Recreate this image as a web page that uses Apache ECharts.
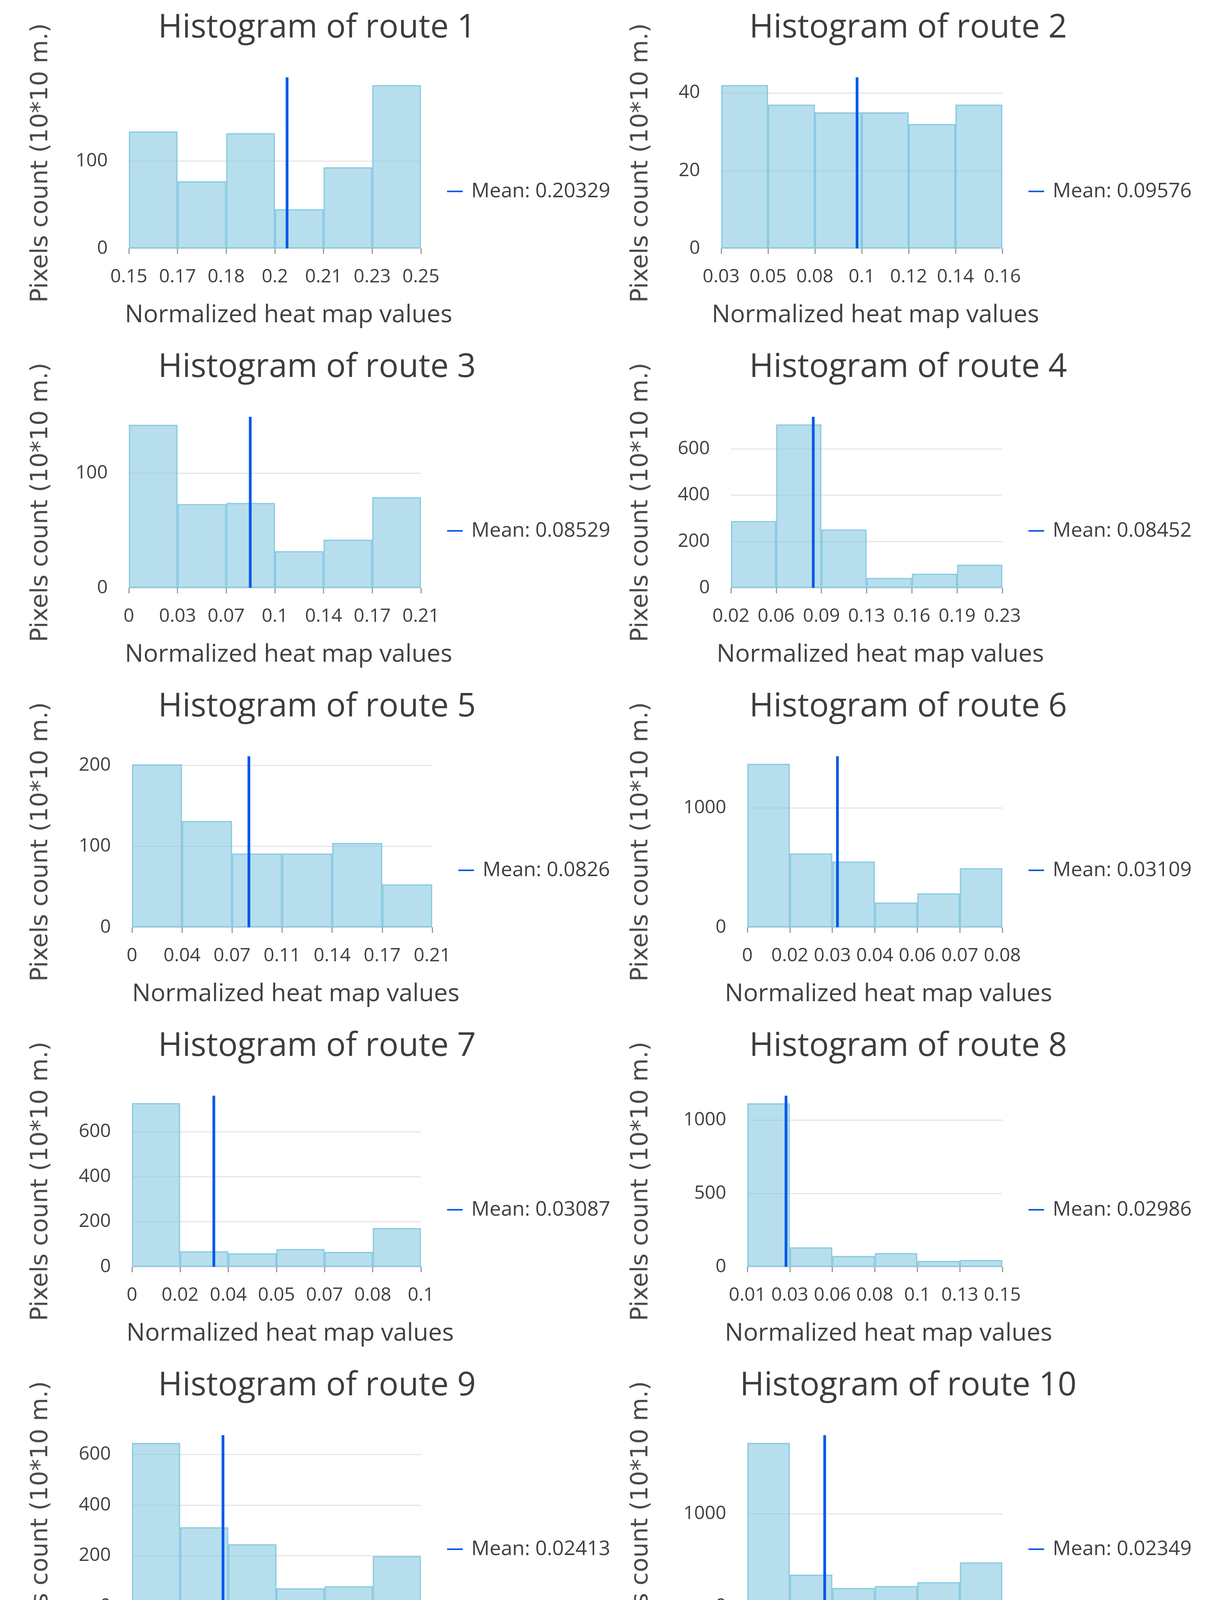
<!DOCTYPE html>
<html><head><meta charset="utf-8">
<script src="https://cdn.jsdelivr.net/npm/echarts@6/dist/echarts.min.js"></script>
<style>html,body{margin:0;padding:0;background:#fff}#c{width:3104px;height:4337px}</style>
</head><body><div id="c"></div>
<script>
// ---- data ----
const routeNames = ['route 1','route 2','route 3','route 4','route 5','route 6','route 7','route 8','route 9','route 10'];
const route1Counts = [134, 77, 132, 45, 93, 187];
const route2Counts = [42, 37, 35, 35, 32, 37];
const route3Counts = [142, 73, 74, 32, 42, 79];
const route4Counts = [288, 705, 252, 43, 61, 100];
const route5Counts = [201, 131, 91, 91, 104, 53];
const route6Counts = [1370, 619, 551, 208, 285, 496];
const route7Counts = [727, 69, 60, 79, 66, 172];
const route8Counts = [1113, 132, 74, 93, 40, 46];
const route9Counts = [645, 312, 245, 71, 79, 198];
const route10Counts = [1769, 343, 198, 219, 261, 475];

const route1Ticks = ['0.15','0.17','0.18','0.2','0.21','0.23','0.25'];
const route2Ticks = ['0.03','0.05','0.08','0.1','0.12','0.14','0.16'];
const route3Ticks = ['0','0.03','0.07','0.1','0.14','0.17','0.21'];
const route4Ticks = ['0.02','0.06','0.09','0.13','0.16','0.19','0.23'];
const route5Ticks = ['0','0.04','0.07','0.11','0.14','0.17','0.21'];
const route6Ticks = ['0','0.02','0.03','0.04','0.06','0.07','0.08'];
const route7Ticks = ['0','0.02','0.04','0.05','0.07','0.08','0.1'];
const route8Ticks = ['0.01','0.03','0.06','0.08','0.1','0.13','0.15'];
const route9Ticks = ['0','0.01','0.03','0.04','0.05','0.06','0.08'];
const route10Ticks = ['0','0.01','0.03','0.04','0.05','0.06','0.08'];

const means = [0.20329, 0.09576, 0.08529, 0.08452, 0.0826, 0.03109, 0.03087, 0.02986, 0.02413, 0.02349];
const binStarts = [0.15324, 0.03254, 0.0, 0.02173, 0.002, 0.00247, 0.00401, 0.00866, 0.00013, 0.00056];
const binWidths = [0.0154, 0.0218, 0.0342, 0.0345, 0.0345, 0.0135, 0.0158, 0.0233, 0.0127, 0.0126];
const yMaxes = [196, 44, 149, 738, 211, 1433, 760, 1165, 676, 1852];
const yIntervals = [100, 20, 100, 200, 100, 1000, 200, 500, 200, 1000];

const allCounts = [route1Counts, route2Counts, route3Counts, route4Counts, route5Counts,
  route6Counts, route7Counts, route8Counts, route9Counts, route10Counts];
const allTicks = [route1Ticks, route2Ticks, route3Ticks, route4Ticks, route5Ticks,
  route6Ticks, route7Ticks, route8Ticks, route9Ticks, route10Ticks];

// ---- layout (pixels) ----
const plotLefts = [330, 1847, 330, 1872, 338, 1914, 338, 1914, 338, 1914];
const plotRights = [1078, 2567, 1078, 2567, 1107, 2567, 1078, 2567, 1078, 2567];
const titleCenters = [812, 2326];
const yNameCenters = [105, 1642];
const rowPitch = 869, firstTop = 198, plotHeight = 438;
const yNameSize = 61;

const textColor = '#404040';
const meanColor = '#0658e8';

const option = {
  animation: false,
  backgroundColor: '#ffffff',
  textStyle: { fontFamily: 'Open Sans' },
  title: [], legend: [], grid: [], xAxis: [], yAxis: [], series: []
};

for (let k = 0; k < 10; k++) {
  const col = k % 2, row = Math.floor(k / 2);
  const top = firstTop + row * rowPitch;
  const left = plotLefts[k], right = plotRights[k];
  const ticks = allTicks[k];
  const meanName = 'Mean: ' + String(means[k]);

  option.title.push({
    text: 'Histogram of ' + routeNames[k],
    left: titleCenters[col], top: top - 168, textAlign: 'center', padding: 0,
    textStyle: { fontSize: 84, fontWeight: 'normal', fontFamily: 'Open Sans', color: '#3d3d3d' }
  });
  option.grid.push({ left: left, top: top, width: right - left, height: plotHeight });

  // visible axis: bin edges
  option.xAxis.push({
    gridIndex: k, type: 'value', position: 'bottom', min: 0, max: 6, interval: 1,
    axisLine: { show: false },
    axisTick: { show: true, length: 14, lineStyle: { color: '#9a9a9a', width: 3 } },
    splitLine: { show: false },
    axisLabel: {
      formatter: (v) => ticks[Math.round(v)] ?? '',
      fontSize: 48, margin: 49, color: textColor, fontFamily: 'Open Sans'
    },
    name: 'Normalized heat map values', nameLocation: 'middle', nameGap: 140,
    nameTextStyle: { fontSize: 63, color: textColor, fontFamily: 'Open Sans', padding: [0, 0, 0, 70] }
  });
  // hidden value axis in real units (mean line)
  option.xAxis.push({
    gridIndex: k, type: 'value', show: false, position: 'top',
    min: binStarts[k], max: binStarts[k] + 6 * binWidths[k]
  });
  // hidden category axis for bars
  option.xAxis.push({
    gridIndex: k, type: 'category', show: false, position: 'top',
    data: allCounts[k].map((_, i) => 'bin' + i)
  });

  option.yAxis.push({
    gridIndex: k, type: 'value', min: 0, max: yMaxes[k], interval: yIntervals[k],
    name: 'Pixels count (10*10 m.)', nameLocation: 'middle',
    nameGap: left - yNameCenters[col] - yNameSize / 2,
    nameTextStyle: { fontFamily: 'DejaVu Sans', fontSize: yNameSize, color: '#4a4a4a' },
    axisLine: { show: false }, axisTick: { show: false },
    axisLabel: { formatter: (v) => String(v), fontSize: 48, margin: 54, color: textColor, showMaxLabel: false, fontFamily: 'Open Sans' },
    splitLine: { show: true, showMaxLine: false, lineStyle: { color: '#e6e6e6', width: 3 } }
  });

  option.series.push({
    type: 'bar', xAxisIndex: 3 * k + 2, yAxisIndex: k,
    data: allCounts[k], barWidth: '100%', silent: true,
    itemStyle: { color: 'rgba(135,200,225,0.6)', borderColor: 'rgba(120,195,222,0.85)', borderWidth: 3 }
  });
  option.series.push({
    type: 'line', name: meanName, xAxisIndex: 3 * k + 1, yAxisIndex: k,
    data: [[means[k], 0], [means[k], yMaxes[k]]],
    symbol: 'none', silent: true, z: 5,
    lineStyle: { width: 7, color: meanColor }, itemStyle: { color: meanColor }
  });

  option.legend.push({
    data: [meanName], left: right + 67, top: top + 292 - 26, padding: 0,
    icon: 'rect', itemWidth: 40, itemHeight: 4, selectedMode: false,
    textStyle: { fontSize: 52, color: textColor, fontFamily: 'Open Sans', padding: [0, 0, 0, 17] }
  });
}

const chart = echarts.init(document.getElementById('c'), null, { renderer: 'canvas' });
chart.setOption(option);
</script>
</body></html>
